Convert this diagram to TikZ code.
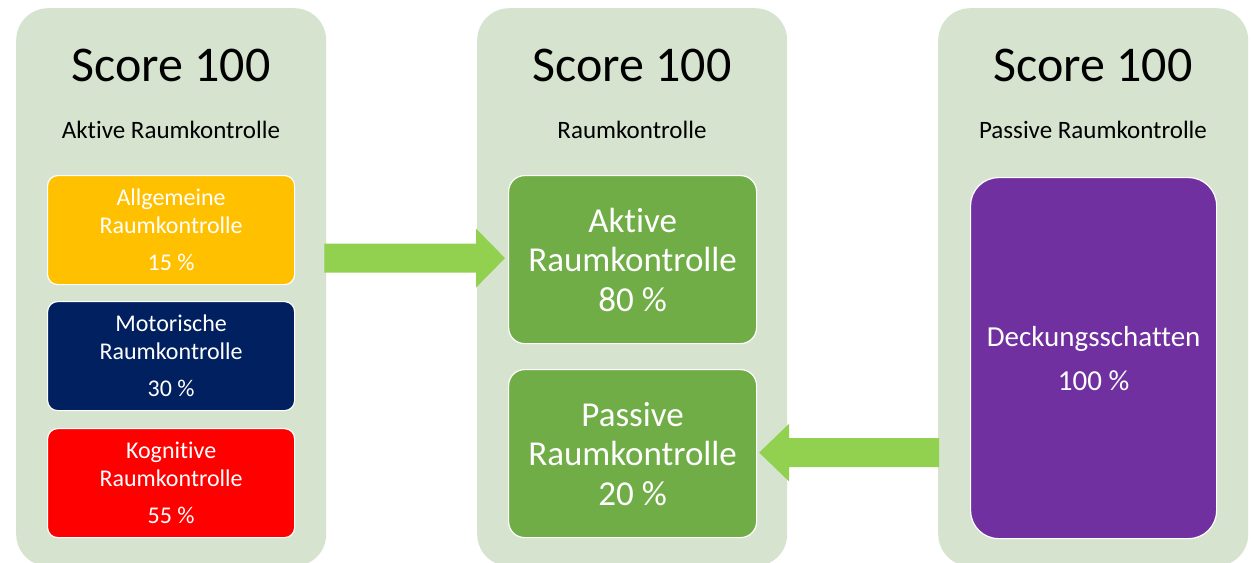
\documentclass[tikz,border=0pt]{standalone}
\usepackage{fontspec}
\setmainfont{Carlito}[Ligatures=NoCommon]
\usetikzlibrary{calc}
\definecolor{panelbg}{HTML}{D6E3CF}
\definecolor{amber}{HTML}{FFC000}
\definecolor{navy}{HTML}{002060}
\definecolor{signalred}{HTML}{FF0000}
\definecolor{leafgreen}{HTML}{70AD47}
\definecolor{violet}{HTML}{7030A0}
\definecolor{arrowgreen}{HTML}{92D050}
\begin{document}
\begin{tikzpicture}[x=1pt,y=-1pt,
  panel/.style={fill=panelbg, rounded corners=32pt, inner sep=0pt, anchor=north west,
    minimum width=310pt, minimum height=558pt},
  title/.style={inner sep=0pt, font=\fontsize{50}{60}\selectfont},
  subtitle/.style={inner sep=0pt, font=\fontsize{25}{30}\selectfont},
  tile/.style={draw=white, line width=1.2pt, text=white, align=center, inner sep=0pt,
    anchor=north west},
  smalltile/.style={tile, rounded corners=10pt, minimum width=247pt, minimum height=109pt,
    font=\fontsize{24}{27.5}\selectfont},
  bigtile/.style={tile, fill=leafgreen, rounded corners=16pt, minimum width=248pt,
    minimum height=168pt, font=\fontsize{35}{39.5}\selectfont},
  blockarrow/.style={fill=arrowgreen}
]
\useasboundingbox (0,0) rectangle (1252,562);

% three background panels
\node[panel] (pA) at (16,8) {};
\node[panel] (pB) at (477,8) {};
\node[panel] (pC) at (938,8) {};

% headings
\node[title] (tA) at (171,65) {Score 100};
\node[title] (tB) at (632,65) {Score 100};
\node[title] (tC) at (1093,65) {Score 100};
\node[subtitle] (sA) at (171,130) {Aktive Raumkontrolle};
\node[subtitle] (sB) at (632,130) {Raumkontrolle};
\node[subtitle] (sC) at (1093,130) {Passive Raumkontrolle};

% components of active space control
\node[smalltile, fill=amber] (a1) at (47,175) {Allgemeine\\Raumkontrolle\\[10pt]15 \%};
\node[smalltile, fill=navy] (a2) at (47,301) {Motorische\\Raumkontrolle\\[10pt]30 \%};
\node[smalltile, fill=signalred] (a3) at (47,428) {Kognitive\\Raumkontrolle\\[10pt]55 \%};

% overall space control
\node[bigtile] (g1) at (508,175) {Aktive\\Raumkontrolle\\80 \%};
\node[bigtile] (g2) at (508,369) {Passive\\Raumkontrolle\\20 \%};

% passive space control
\node[tile, fill=violet, rounded corners=28pt, minimum width=246pt, minimum height=361pt,
  font=\fontsize{29}{34}\selectfont] (d1) at (970,177) {Deckungsschatten\\[10pt]100 \%};

% block arrows between the panels
\coordinate (r1) at ($(g1.west)+(-3,-1.5)$);
\coordinate (r0) at (pA.east |- r1);
\fill[blockarrow] ($(r0)+(-2,-14.5)$) -- ($(r1)+(-29,-14.5)$) -- ($(r1)+(-29,-29.5)$)
  -- (r1) -- ($(r1)+(-29,29.5)$) -- ($(r1)+(-29,14.5)$) -- ($(r0)+(-2,14.5)$) -- cycle;

\coordinate (l1) at ($(g2.east)+(2,-1)$);
\coordinate (l0) at (pC.west |- l1);
\fill[blockarrow] ($(l0)+(1,-14.5)$) -- ($(l1)+(30,-14.5)$) -- ($(l1)+(30,-29)$)
  -- (l1) -- ($(l1)+(30,29)$) -- ($(l1)+(30,14.5)$) -- ($(l0)+(1,14.5)$) -- cycle;
\end{tikzpicture}
\end{document}
